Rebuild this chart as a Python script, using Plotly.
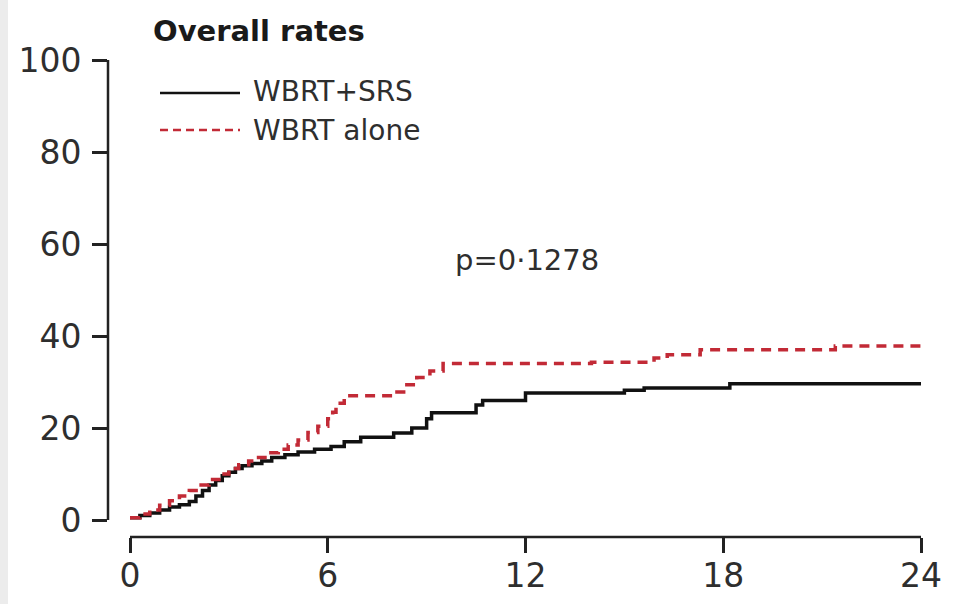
import plotly.graph_objects as go

# Cumulative incidence (%) by month, step functions
months_srs = [0, 0.3, 0.6, 0.9, 1.2, 1.5, 1.8, 2.0, 2.2, 2.4, 2.6, 2.8, 3.0, 3.2, 3.4,
              3.7, 4.0, 4.3, 4.7, 5.1, 5.6, 6.1, 6.5, 7.0, 8.0, 8.55, 9.0, 9.15,
              10.5, 10.7, 12.0, 15.0, 15.6, 18.2, 24.0]
rate_srs = [0.5, 1.0, 1.5, 2.2, 2.8, 3.3, 4.0, 5.2, 6.4, 7.6, 8.6, 9.6, 10.4, 11.2, 11.8,
            12.3, 12.8, 13.6, 14.2, 14.8, 15.4, 16.0, 17.0, 18.0, 18.9, 20.0, 22.0, 23.3,
            25.0, 26.0, 27.6, 28.2, 28.7, 29.6, 29.6]

months_alone = [0, 0.3, 0.6, 0.9, 1.2, 1.5, 1.8, 2.1, 2.4, 2.7, 3.0, 3.3, 3.6, 3.9,
                4.2, 4.5, 4.8, 5.1, 5.4, 5.7, 6.0, 6.15, 6.25, 6.5, 8.1, 8.4, 8.7,
                9.1, 9.5, 14.0, 15.9, 16.3, 17.3, 21.4, 24.0]
rate_alone = [0.5, 1.3, 2.2, 3.2, 4.2, 5.2, 6.4, 7.6, 8.8, 10.0, 11.2, 12.0, 12.8, 13.6,
              14.6, 15.4, 16.3, 17.4, 19.0, 20.4, 22.0, 23.4, 25.4, 27.0, 27.8, 29.4, 31.0,
              32.4, 34.0, 34.3, 35.2, 35.9, 37.0, 37.8, 37.8]

series_names = ["WBRT+SRS", "WBRT alone"]
x_ticks = [0, 6, 12, 18, 24]
y_ticks = [0, 20, 40, 60, 80, 100]
title_text = "Overall rates"
p_text = "p=0·1278"

BLACK = "#111111"
RED = "#c22a36"
TEXT = "#2e2e2e"
FONT = "DejaVu Sans"

W, H = 955, 604
L, R, T, B = 108, 34, 60, 67
plot_w = W - L - R
plot_h = H - T - B


def px_x(px):
    return (px - L) / plot_w


def px_y(py):
    return (H - B - py) / plot_h


fig = go.Figure()
fig.add_trace(go.Scatter(x=months_srs, y=rate_srs, mode="lines", name=series_names[0],
                         line=dict(color=BLACK, width=3.5, shape="hv"), showlegend=False))
fig.add_trace(go.Scatter(x=months_alone, y=rate_alone, mode="lines", name=series_names[1],
                         line=dict(color=RED, width=3.5, shape="hv", dash="10px,7px"),
                         showlegend=False))

shapes = [
    # detached axis lines
    dict(type="line", xref="x", yref="paper", x0=x_ticks[0], x1=x_ticks[-1], y0=0, y1=0,
         line=dict(color="#222222", width=2.5)),
    dict(type="line", xref="paper", yref="y", x0=0, x1=0, y0=y_ticks[0], y1=y_ticks[-1],
         line=dict(color="#222222", width=2.5)),
    # legend samples
    dict(type="line", xref="paper", yref="paper", x0=px_x(160), x1=px_x(240),
         y0=px_y(93), y1=px_y(93), line=dict(color=BLACK, width=2.5)),
    dict(type="line", xref="paper", yref="paper", x0=px_x(160), x1=px_x(240),
         y0=px_y(130), y1=px_y(130), line=dict(color=RED, width=2.5, dash="8px,5px")),
    # left page edge
    dict(type="rect", xref="paper", yref="paper", x0=px_x(0), x1=px_x(8),
         y0=px_y(H), y1=px_y(0), fillcolor="#ececec", line=dict(width=0), layer="below"),
]

annotations = [
    dict(text=f"<b>{title_text}</b>", xref="paper", yref="paper", x=px_x(151), y=px_y(31),
         xanchor="left", yanchor="middle", showarrow=False,
         font=dict(family=FONT, size=29, color="#1a1a1a")),
    dict(text=series_names[0], xref="paper", yref="paper", x=px_x(251), y=px_y(92),
         xanchor="left", yanchor="middle", showarrow=False,
         font=dict(family=FONT, size=28, color=TEXT)),
    dict(text=series_names[1], xref="paper", yref="paper", x=px_x(251), y=px_y(130),
         xanchor="left", yanchor="middle", showarrow=False,
         font=dict(family=FONT, size=28, color=TEXT)),
    dict(text=p_text, xref="paper", yref="paper", x=px_x(453), y=px_y(260),
         xanchor="left", yanchor="middle", showarrow=False,
         font=dict(family=FONT, size=29, color=TEXT)),
]

# x=0 sits 22px right of the y axis; y=0 sits 17px above the x axis
x_lo = -22 / ((921 - 130) / 24)
y_lo = -17 / ((520 - 60) / 100)

fig.update_layout(
    width=W, height=H,
    margin=dict(l=L, r=R, t=T, b=B),
    paper_bgcolor="white", plot_bgcolor="white",
    shapes=shapes, annotations=annotations,
    showlegend=False,
    xaxis=dict(range=[x_lo, 24], tickvals=x_ticks, ticktext=[str(v) for v in x_ticks],
               showgrid=False, zeroline=False, showline=False, automargin=False,
               ticks="outside", ticklen=15, tickwidth=2.5, tickcolor="#222222",
               ticklabelstandoff=-6,
               tickfont=dict(family=FONT, size=33, color=TEXT), fixedrange=True),
    yaxis=dict(range=[y_lo, 100], tickvals=y_ticks, ticktext=[str(v) for v in y_ticks],
               showgrid=False, zeroline=False, showline=False, automargin=False,
               ticks="outside", ticklen=15, tickwidth=2.5, tickcolor="#222222",
               ticklabelstandoff=4,
               tickfont=dict(family=FONT, size=33, color=TEXT), fixedrange=True),
)

fig.write_html("out.html")
